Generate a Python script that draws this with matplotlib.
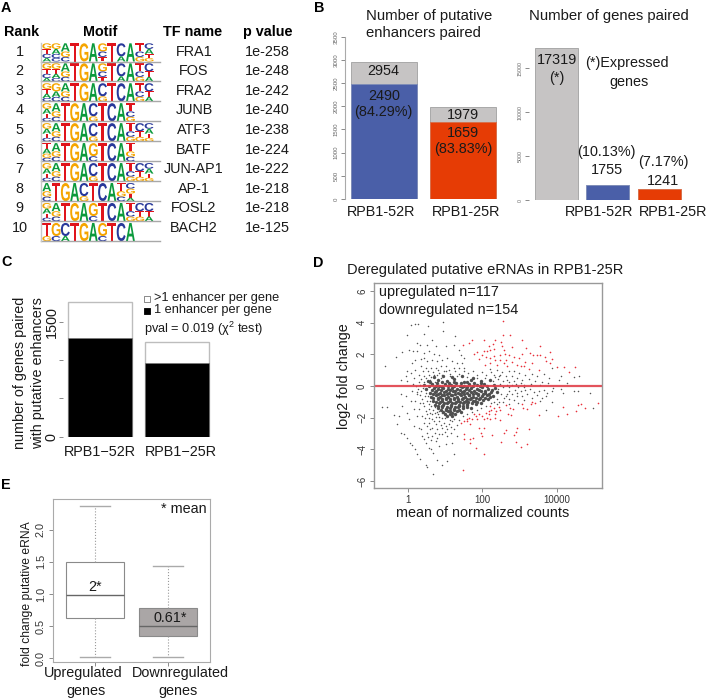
import matplotlib
matplotlib.use('Agg')
import matplotlib.pyplot as plt
from matplotlib.font_manager import FontProperties
from matplotlib.patches import PathPatch
from matplotlib.textpath import TextPath
from matplotlib.transforms import Affine2D

plt.rcParams['font.family'] = ['Liberation Sans', 'DejaVu Sans']
plt.rcParams['mathtext.fontset'] = 'custom'
plt.rcParams['mathtext.rm'] = 'Liberation Sans'

W, H = 708, 699

# panel A
ranks = list(range(1, 11))
tf_names = ['FRA1', 'FOS', 'FRA2', 'JUNB', 'ATF3', 'BATF', 'JUN-AP1', 'AP-1', 'FOSL2', 'BACH2']
p_values = ['1e-258', '1e-248', '1e-242', '1e-240', '1e-238', '1e-224', '1e-222', '1e-218', '1e-218', '1e-125']
motifs = [
    ['GTCA', 'GACC', 'AGC', 'T', 'G', 'A', 'GCT', 'T', 'CA', 'A', 'TCG', 'CATG'],
    ['GTCA', 'GTAC', 'AGC', 'T', 'G', 'A', 'GCT', 'T', 'CA', 'A', 'TCG', 'CTA'],
    ['GTAC', 'GAC', 'AGC', 'T', 'G', 'A', 'CG', 'T', 'C', 'A', 'TCG', 'CTA'],
    ['GATC', 'AGC', 'T', 'G', 'A', 'CG', 'T', 'C', 'A', 'TCG'],
    ['GATC', 'AGC', 'T', 'G', 'A', 'CG', 'T', 'C', 'A', 'TCG', 'CTG', 'CATG'],
    ['TAGC', 'AGC', 'T', 'G', 'A', 'GC', 'T', 'C', 'A', 'TGC'],
    ['GATC', 'AGC', 'T', 'G', 'A', 'CG', 'T', 'C', 'A', 'TCG', 'CTG', 'CATG'],
    ['AGC', 'T', 'G', 'A', 'CG', 'T', 'C', 'A', 'TGC', 'CGTA'],
    ['GATC', 'AGC', 'T', 'G', 'A', 'GC', 'T', 'C', 'A', 'TCG', 'CTG', 'CTA'],
    ['TG', 'GC', 'CA', 'T', 'G', 'A', 'GC', 'T', 'C', 'A'],
]

# panel B
enh_labels = ['RPB1-52R', 'RPB1-25R']
enh_total = [2954, 1979]
enh_active = [2490, 1659]
gene_values = [17319, 1755, 1241]
gene_labels = ['RPB1-52R', 'RPB1-25R']

# panel C
c_labels = ['RPB1\u221252R', 'RPB1\u221225R']
c_total = [1755, 1241]
c_single = [1287, 960]

# panel D: (log10 mean count, log2 fold change)
gray_sparse = [
    (-.61, 1.28), (-.31, 1.83), (-.14, 2.14), (-.01, 3.24), (.10, 3.87), (.19, 3.93), (.29, 3.91), (.55, 3.81),
    (.95, 4.04), (.44, 3.3), (.94, 3.45), (.66, 2.92), (1.28, 3.13), (.24, 2.71), (.32, 2.61), (.53, 2.61),
    (.75, 2.5), (1.02, 2.5), (.04, 2.29), (.14, 2.18), (.26, 2.18), (.44, 2.08), (.57, 2.18), (.70, 2.04),
    (.84, 1.97), (1.24, 2.61), (1.37, 2.29), (1.42, 1.97), (1.51, 1.76), (-.01, .92), (.11, 1.45), (.21, 1.62),
    (.35, 1.7), (.44, 1.76), (.53, 1.55), (.66, 1.62), (.79, 1.55), (.93, 1.66), (1.06, 1.76), (1.19, 1.55),
    (1.33, 1.45), (1.46, 1.45), (-.05, .61), (.08, .82), (.21, 1.03), (.35, 1.24), (.48, 1.13), (.62, 1.13),
    (.75, 1.13), (.88, 1.24), (1.02, 1.24), (-.19, .39), (-.01, .29), (.17, .5), (.3, .71), (.44, .61),
    (.57, .71), (.7, .71), (.84, .82), (.97, .92), (1.11, 1.03), (1.24, 1.13), (1.37, 1.13), (1.51, 1.13),
    (2.7, .92), (2.84, .92), (2.97, .82), (3.15, .71), (3.33, .77), (3.46, .65), (3.64, .77), (3.77, .5),
    (4.04, .39), (4.09, .61), (4.26, .18), (4.44, .56), (4.58, .65), (3.86, 1.13), (2.39, .98), (2.21, 1.07),
    (2.53, .86), (2.62, .65), (2.79, .61), (2.93, .5), (3.06, .39), (3.24, .44), (3.42, .29), (3.6, .23),
    (3.76, .18), (2.3, .71), (2.44, .61), (2.66, .39), (2.84, .29), (3.02, .18), (3.3, .12), (3.55, .08),
    (-.68, -1.31), (-.54, -1.33), (-.37, -1.85), (-.23, -1.89), (-.29, -2.42), (-.19, -2.95), (-.1, -3.01),
    (-.01, -3.31), (.06, -3.58), (.13, -3.75), (.21, -4), (.26, -4.32), (.32, -4.59), (.48, -5.01), (.53, -5.09),
    (.68, -5.54), (.93, -5.01), (1.04, -4.74), (.79, -4.67), (1.24, -4.32), (-.14, -1.26), (-.01, -1.68),
    (.04, -2.11), (.17, -2.53), (.3, -2.63), (.39, -3.16), (.48, -3.58), (.57, -3.89), (.69, -4.21), (.62, -4),
    (.44, -3.37), (.35, -2.74), (.53, -2.95), (.66, -3.16), (.79, -3.26), (.93, -3.05), (1.06, -3.16),
    (1.19, -3.62), (1.33, -3.16), (1.02, -3.68), (.84, -3.79), (-.19, -.53), (-.05, -.63), (.08, -.95),
    (.21, -.95), (.13, -.32), (.26, -.53), (.39, -.84), (.17, -1.47), (.3, -1.47), (.44, -1.26), (.57, -1.16),
    (.26, -1.89), (.39, -1.89), (.53, -1.79), (.66, -1.79), (.44, -2.32), (.57, -2.32), (.7, -2.21), (.84, -2.21),
    (.97, -2.32), (1.11, -2.42), (.66, -2.63), (.79, -2.74), (.93, -2.63), (1.06, -2.74), (1.24, -2.74),
    (3.28, -.17), (3.37, -.38), (3.51, -.32), (3.64, -.25), (3.73, -.42), (3.86, -.32), (3.69, -.63), (3.86, -1.01),
    (3.6, -.74), (4.15, -.42), (4.46, -.32), (4.56, -.32), (4.89, -.42), (4.97, -1.41), (3.69, -1.54), (3.15, -.25),
    (3.02, -.32), (2.88, -.25), (3.06, -.63), (2.93, -.63), (2.79, -.53), (2.84, -.88), (2.7, -.84), (2.62, -.63),
    (3.33, -.74), (3.2, -.5), (3.45, -.55), (3.1, -.9), (2.95, -1.05), (2.72, -1.12), (3.55, -.95), (3.9, -.12),
    (4.1, -.18), (.15, .1), (.3, .25), (.4, -.1), (.28, -.2), (.5, -.45), (.36, .42), (.6, .38), (.72, .25),
    (.58, -1.45), (.72, -1.35), (.85, -1.95), (1.0, -2.05), (.75, -1.95), (.92, -1.72), (1.2, -2.2), (1.32, -2.45),
    # denser band round the core
    (.42, .92), (.55, .95), (.68, .9), (.8, 1.02), (.92, .72), (1.03, .95), (1.14, .78), (1.26, .92), (1.38, .74),
    (1.5, .95), (1.62, .8), (1.74, .94), (1.86, .72), (1.98, .88), (2.1, .7), (2.22, .86), (2.34, .55), (2.47, .72),
    (.5, .5), (.62, .56), (.78, .7), (.9, .5), (1.12, .62), (1.33, .6), (1.58, .55), (1.86, .48), (2.08, .52),
    (2.28, .3), (2.42, .42), (2.55, .32), (2.72, .22), (2.9, .12), (3.1, .06), (2.48, .15), (2.65, .08), (2.8, .05),
    (2.72, -.08), (2.95, -.06), (3.12, -.08), (2.55, -.08), (2.42, -.22), (2.7, -.3), (2.5, -.52), (2.66, -.52),
    (2.92, -.42), (2.58, -.75), (2.38, -.82), (2.44, -.98), (2.55, -1.02), (2.3, -1.02), (2.22, -1.05), (2.38, -1.15),
    (.22, .02), (.34, .08), (.45, .28), (.24, -.38), (.36, -.32), (.46, -.22), (.34, -.6), (.46, -.62), (.55, -.62),
    (.32, -1.1), (.42, -1.05), (.52, -.92), (.6, -.95), (.62, -1.25), (.68, -1.5), (.78, -1.62), (.85, -1.55),
    (.48, -1.55), (.6, -1.7), (.72, -1.72), (.82, -1.78), (.92, -2.0), (1.02, -1.85), (1.12, -2.12), (1.25, -2.08),
    (1.38, -2.12), (1.48, -1.92), (1.6, -1.78), (1.72, -1.62), (1.85, -1.52), (1.97, -1.38), (2.1, -1.25),
    (.46, -2.05), (.58, -2.02), (.66, -2.1), (.52, -2.55), (.6, -2.72), (.75, -2.42), (.88, -2.48), (1.02, -2.5),
    (1.16, -2.62), (.72, -2.95), (.85, -3.02), (1.0, -2.92), (1.15, -2.98), (.55, -3.25), (.62, -3.42), (.76, -3.5),
]
gray_core = [
    (.7, .58), (.95, .66), (1.2, .55), (1.45, .62), (1.75, .5), (.55, .33), (.8, .4), (1.05, .3), (1.25, .42),
    (1.5, .28), (1.7, .38), (1.95, .31), (2.2, .4), (.45, .08), (.65, .14), (.85, .02), (1.0, .12), (1.15, .05),
    (1.3, .16), (1.5, .02), (1.65, .12), (1.85, .04), (2.05, .14), (2.3, .06), (.5, -.18), (.7, -.1),
    (.82, -.2), (.95, -.12), (1.07, -.22), (1.2, -.1), (1.32, -.18), (1.45, -.08), (1.57, -.2), (1.7, -.1),
    (1.85, -.16), (2.0, -.08), (2.15, -.18), (2.35, -.1), (.6, -.42), (.74, -.35),
    (.86, -.45), (.98, -.36), (1.1, -.46), (1.22, -.34), (1.34, -.44), (1.46, -.36), (1.58, -.46), (1.7, -.35),
    (1.82, -.43), (1.95, -.33), (2.08, -.42), (2.22, -.36), (2.4, -.41), (.62, -.68), (.75, -.6),
    (.87, -.7), (.98, -.6), (1.09, -.7), (1.2, -.58), (1.31, -.69), (1.42, -.6), (1.53, -.7), (1.64, -.6),
    (1.76, -.68), (1.88, -.58), (2.0, -.66), (2.13, -.58), (2.28, -.65), (.68, -.92), (.8, -.85),
    (.91, -.95), (1.02, -.85), (1.12, -.95), (1.23, -.84), (1.34, -.94), (1.45, -.85), (1.56, -.93), (1.67, -.83),
    (1.79, -.92), (1.9, -.82), (2.02, -.9), (2.15, -.82), (.72, -1.17), (.84, -1.1), (.95, -1.2),
    (1.05, -1.1), (1.16, -1.2), (1.27, -1.08), (1.38, -1.18), (1.49, -1.08), (1.6, -1.16), (1.72, -1.06),
    (1.84, -1.13), (1.96, -1.05), (.8, -1.42), (.92, -1.35), (1.03, -1.45), (1.14, -1.36),
    (1.25, -1.46), (1.36, -1.35), (1.47, -1.42), (1.58, -1.32), (1.7, -1.38), (.95, -1.65),
    (1.08, -1.6), (1.2, -1.7), (1.32, -1.6), (1.44, -1.64), (1.06, -1.9), (1.2, -1.88),
    (.6, .22), (.78, .18), (.93, .24), (1.1, .2), (1.25, .25), (1.42, .18), (1.58, .22), (1.78, .17), (1.95, .2),
    (.58, -.03), (.76, 0.0), (.92, -.04), (1.08, .01), (1.24, -.03), (1.4, .02), (1.58, -.04), (1.76, -.01), (1.94, -.03), (2.12, .01),
    (.64, -.27), (.76, -.3), (.9, -.26), (1.02, -.31), (1.14, -.27), (1.26, -.3), (1.39, -.25), (1.51, -.3), (1.64, -.26),
    (1.77, -.29), (1.9, -.25), (2.07, -.3), (2.25, -.26),
    (.68, -.52), (.8, -.5), (.92, -.55), (1.04, -.5), (1.16, -.54), (1.28, -.5), (1.4, -.53), (1.52, -.49), (1.64, -.54),
    (1.76, -.5), (1.89, -.52), (2.02, -.48), (2.17, -.52),
    (.69, -.78), (.81, -.76), (.93, -.8), (1.03, -.75), (1.14, -.8), (1.25, -.76), (1.36, -.8), (1.47, -.75), (1.58, -.8),
    (1.7, -.75), (1.82, -.79), (1.94, -.73), (2.07, -.77), (2.2, -.72),
    (.75, -1.03), (.86, -1.0), (.97, -1.05), (1.07, -1.0), (1.18, -1.05), (1.29, -.98), (1.4, -1.04), (1.51, -.98),
    (1.62, -1.03), (1.74, -.97), (1.86, -1.02),
    (.82, -1.28), (.93, -1.26), (1.04, -1.3), (1.15, -1.25), (1.26, -1.3), (1.37, -1.25), (1.48, -1.28), (1.6, -1.23),
    (.9, -1.53), (1.02, -1.52), (1.13, -1.55), (1.25, -1.53), (1.37, -1.5), (1.0, -1.78), (1.13, -1.76), (1.27, -1.78),
]
red_points = [
    (2.54, 4.12), (2.56, 3.24), (2.75, 3.19), (3.06, 2.92), (2.33, 2.88), (2.29, 2.67), (2.51, 2.75), (2.53, 2.5),
    (2.78, 2.46), (3.55, 2.54), (2.2, 2.29), (2.32, 2.33), (2.57, 2.29), (3.06, 2.04), (3.17, 2.37), (3.28, 2.08),
    (3.36, 1.97), (3.46, 1.93), (3.55, 1.97), (3.67, 1.83), (3.8, 2.12), (3.85, 1.7), (3.69, 1.55), (3.8, 1.45),
    (3.33, 1.45), (3.15, 1.49), (2.97, 1.76), (2.84, 1.83), (2.7, 1.97), (2.6, 2.02), (2.46, 1.97), (2.3, 1.91),
    (2.21, 1.76), (2.35, 1.66), (2.48, 1.62), (2.62, 1.62), (2.79, 1.49), (2.93, 1.34), (3.02, 1.24), (2.57, 1.45),
    (3.26, 1.07), (3.51, .98), (4.0, 1.17), (4.18, 1.17), (4.47, 1.17), (4.33, .86), (3.11, 1.24), (2.21, 1.45),
    (2.66, 1.24), (2.39, 1.34), (1.49, 2.61), (1.64, 2.71), (1.73, 2.92), (2.04, 2.88), (1.77, 2.04), (1.86, 2.14),
    (2.04, 2.18), (2.0, 1.97), (2.13, 2.18), (1.91, 1.7), (2.09, 1.83), (2.06, 1.34), (2.17, 2.5),
    (1.44, -2.32), (1.51, -2.21), (1.58, -2.11), (1.64, -2), (1.73, -2.11), (1.82, -1.89), (1.91, -1.79), (2, -1.89),
    (2.09, -1.68), (2.13, -2), (1.68, -2.42), (1.86, -2.11), (2.04, -2.11), (1.91, -2.63), (2.04, -2.63), (2, -3.16),
    (1.51, -3.05), (1.52, -3.33), (1.68, -3.33), (1.76, -3.26), (1.68, -3.58), (1.82, -3.94), (2.04, -4.27),
    (1.48, -5.31), (1.95, -2.95), (1.6, -2.21), (1.77, -1.79), (2.17, -1.58),
    (2.2, -1.26), (2.3, -1.37), (2.44, -1.31), (2.24, -1.52), (2.37, -1.58), (2.48, -1.52), (2.19, -1.79),
    (2.33, -1.79), (2.21, -2.11), (2.33, -2), (2.46, -2.17), (2.62, -1.22), (2.75, -1.37), (2.81, -1.43),
    (2.68, -1.79), (2.76, -1.83), (3.06, -1.16), (3.08, -1.37), (3.19, -1.47), (3.3, -1.16), (3.33, -1.01),
    (3.4, -1.09), (3.51, -1.83), (4.15, -1.33), (4.02, -1.89), (4.26, -1.75), (4.51, -1.58), (4.55, -1.22),
    (4.64, -1.12), (4.75, -1.41), (5.09, -1.05), (2.92, -2.63), (3.26, -2.69), (2.63, -2.8), (2.9, -2.91),
    (2.57, -2.95), (2.84, -3.12), (2.26, -3.12), (2.49, -3.52), (2.91, -3.52), (3.19, -3.68), (3.02, -3.85),
]
d_xticks = [1, 100, 10000]
d_yticks = [-6, -4, -2, 0, 2, 4, 6]

# panel E
e_labels = ['Upregulated\ngenes', 'Downregulated\ngenes']
e_stats = [
    dict(whislo=0.03, q1=0.635, med=0.99, q3=1.50, whishi=2.37, fliers=[]),
    dict(whislo=0.03, q1=0.35, med=0.505, q3=0.79, whishi=1.43, fliers=[]),
]
e_yticks = [0.0, 0.5, 1.0, 1.5, 2.0]

GRAY = '#c6c4c4'
BLUE = '#4a5fa8'
RED = '#e63c05'
TICK = '#777777'
TXT = '#1a1a1a'
logo_colors = {'A': '#0b9a3c', 'C': '#28389a', 'G': '#f5a500', 'T': '#e0141c'}
stack_heights = {1: [1.0], 2: [.72, .28], 3: [.45, .3, .25], 4: [.31, .27, .23, .19]}


def axes_px(fig, left, top, right, bottom):
    return fig.add_axes([left / W, 1 - bottom / H, (right - left) / W, (bottom - top) / H])


fig = plt.figure(figsize=(W / 100, H / 100), dpi=100)
over = fig.add_axes([0, 0, 1, 1], zorder=10)
over.set_xlim(0, W)
over.set_ylim(H, 0)
over.axis('off')


def label(x, y, s, size=10.4, ha='center', **kw):
    over.text(x, y, s, fontsize=size, ha=ha, va='center', color=kw.pop('color', TXT), **kw)


# ---- A: motif table
for x, s in [(1, 'A'), (314, 'B')]:
    label(x, 8, s, ha='left', fontweight='bold', color='black')
label(1, 262, 'C', ha='left', fontweight='bold', color='black')
label(313, 263, 'D', ha='left', fontweight='bold', color='black')
label(1, 485, 'E', ha='left', fontweight='bold', color='black')

for x, s in [(22, 'Rank'), (100, 'Motif'), (193, 'TF name'), (268, 'p value')]:
    label(x, 32, s, fontweight='bold', color='black')

bold = FontProperties(family='Liberation Sans', weight='bold')
for i, (rank, name, pval, motif) in enumerate(zip(ranks, tf_names, p_values, motifs)):
    y = 51.7 + i * 19.56
    label(19.5, y, str(rank))
    label(194, y, name)
    label(267, y, pval)
    base = 61.5 + i * 19.96
    over.plot([41, 160], [base, base], color='#a8a8a8', lw=1)
    for c, col in enumerate(motif):
        top = base - 18.2
        for ch, frac in zip(col, stack_heights[len(col)]):
            h = 18.2 * frac
            path = TextPath((0, 0), ch, size=1, prop=bold)
            box = path.get_extents()
            tr = (Affine2D().translate(-box.x0, -box.y0)
                  .scale(8.9 / box.width, -h / box.height)
                  .translate(42.3 + c * 9.3, top + h))
            over.add_patch(PathPatch(path.transformed(tr), fc=logo_colors[ch], lw=0))
            top += h
over.plot([41, 41], [43, 241], color='#c8c8c8', lw=1)

# ---- B: enhancers
ax = axes_px(fig, 345, 36.7, 505, 199)
ax.bar(range(2), enh_total, width=.836, color=GRAY, edgecolor='#a9a9a9', lw=.7)
ax.bar(range(2), enh_active[:1] + [0], width=.836, color=BLUE, edgecolor='#7f8db8', lw=.7)
ax.bar(range(2), [0] + enh_active[1:], width=.836, color=RED, edgecolor='#d8704c', lw=.7)
ax.set_xlim(-.49, 1.53)
ax.set_ylim(0, 3500)
ax.set_xticks([])
ax.set_yticks(range(0, 3501, 500))
ax.tick_params(axis='y', labelsize=4.4, length=3, width=.6, color=TICK, labelcolor='#666666', pad=1.5)
plt.setp(ax.get_yticklabels(), rotation=90, va='center')
for s in ['top', 'right', 'bottom']:
    ax.spines[s].set_visible(False)
ax.spines['left'].set_color('#aaaaaa')
ax.patch.set_alpha(0)

label(366, 15.7, 'Number of putative', ha='left', size=10.7)
label(366, 33, 'enhancers paired', ha='left', size=10.7)
label(381, 212, enh_labels[0])
label(465.7, 212, enh_labels[1])
label(383.7, 71, str(enh_total[0]))
label(383.7, 96, str(enh_active[0]))
label(383.7, 112, '(84.29%)')
label(463, 115, str(enh_total[1]))
label(463, 133, str(enh_active[1]))
label(463, 149, '(83.83%)')

# ---- B: genes
ax = axes_px(fig, 529, 42, 690, 200)
ax.bar(range(3), gene_values, width=.83, color=[GRAY, BLUE, RED], edgecolor=['#a9a9a9', '#7f8db8', '#d8704c'], lw=.7)
ax.set_xlim(-.531, 2.595)
ax.set_ylim(0, 18000)
ax.set_xticks([])
ax.set_yticks(range(0, 15001, 5000))
ax.tick_params(axis='y', labelsize=3.8, length=3, width=.6, color=TICK, labelcolor='#666666', pad=1.5)
plt.setp(ax.get_yticklabels(), rotation=90, va='center')
for s in ['top', 'right', 'bottom', 'left']:
    ax.spines[s].set_visible(False)
ax.patch.set_alpha(0)

label(609, 15.7, 'Number of genes paired', size=10.7)
label(556.7, 60, str(gene_values[0]))
label(556.7, 78, '(*)')
label(627, 63, '(*)Expressed')
label(629, 82, 'genes')
label(606.7, 152, '(10.13%)')
label(606.7, 170, str(gene_values[1]))
label(663, 162, '(7.17%)')
label(663, 181, str(gene_values[2]))
label(599, 212, gene_labels[0])
label(673, 212, gene_labels[1])

# ---- C
ax = axes_px(fig, 63, 298.7, 215, 436.7)
ax.bar(range(2), c_total, width=.83, color='white', edgecolor='#bdbdbd', lw=1)
ax.bar(range(2), c_single, width=.83, color='black', edgecolor='#777777', lw=.4)
ax.set_xlim((63 - 100) / 77, (215 - 100) / 77)
ax.set_ylim(0, 1800)
ax.set_xticks([])
ax.set_yticks([0, 500, 1000, 1500])
ax.set_yticklabels(['0', '', '', '1500'], rotation=90, va='center', fontsize=10.4, color=TXT)
ax.tick_params(axis='y', length=3, width=.6, color=TICK, pad=0)
for s in ax.spines.values():
    s.set_visible(False)
ax.patch.set_alpha(0)

label(20, 373, 'number of genes paired', rotation=90)
label(38, 373, 'with putative enhancers', rotation=90)
label(100, 451.7, c_labels[0])
label(181, 451.7, c_labels[1])
over.scatter([147], [299], s=14, marker='s', fc='white', ec='#777777', lw=.6)
over.scatter([147], [311], s=14, marker='s', fc='black', ec='black', lw=.6)
label(154, 298, '>1 enhancer per gene', ha='left', size=9.2)
label(154, 310, '1 enhancer per gene', ha='left', size=9.2)
label(144, 329, 'pval = 0.019 (\u03c7$^{\\mathrm{2}}$ test)', ha='left', size=9.2)

# ---- D
ax = axes_px(fig, 374, 283, 602, 488)
ax.set_xscale('log')
ax.scatter([10 ** p[0] for p in gray_core], [p[1] for p in gray_core], s=6, c='#4f4f4f', lw=0)
ax.scatter([10 ** p[0] for p in gray_sparse], [p[1] for p in gray_sparse], s=1.2, c='#555555', lw=0)
ax.scatter([10 ** p[0] for p in red_points], [p[1] for p in red_points], s=1.4, c='#e8303a', lw=0)
ax.axhline(0, color='#e0404a', lw=1.6, alpha=.9)
ax.set_xlim(10 ** -.9, 10 ** 5.2)
ax.set_ylim(-6.44, 6.5)
ax.set_xticks(d_xticks)
ax.set_xticklabels([str(v) for v in d_xticks], fontsize=7, color='#333333')
ax.minorticks_off()
ax.set_yticks(d_yticks)
ax.set_yticklabels([str(v).replace('-', '\u2212') for v in d_yticks], rotation=90, va='center', fontsize=7, color='#333333')
ax.tick_params(length=3, width=.6, color=TICK, pad=2)
for s in ax.spines.values():
    s.set_color('#999999')
    s.set_linewidth(1)

label(485, 270, 'Deregulated putative eRNAs in RPB1-25R', size=10.5)
label(379, 292, 'upregulated n=117', ha='left')
label(379, 310, 'downregulated n=154', ha='left')
label(344, 376, 'log2 fold change', rotation=90)
label(483, 513, 'mean of normalized counts')

# ---- E
ax = axes_px(fig, 52.7, 499.3, 210, 662.3)
parts = ax.bxp(e_stats, positions=[1, 2], widths=.8, patch_artist=True, showfliers=False,
               boxprops=dict(edgecolor='#8a8a8a', lw=.8),
               medianprops=dict(color='#666666', lw=1),
               whiskerprops=dict(color='#999999', lw=.8, ls=':'),
               capprops=dict(color='#aaaaaa', lw=1))
parts['boxes'][0].set_facecolor('white')
parts['boxes'][1].set_facecolor('#aaa6a6')
ax.set_xlim(.42, 2.575)
ax.set_ylim(-.06, 2.47)
ax.set_xticks([1, 2])
ax.set_xticklabels(['', ''])
ax.set_yticks(e_yticks)
ax.set_yticklabels([f'{v:.1f}' for v in e_yticks], rotation=90, va='center', fontsize=7.8, color='#333333')
ax.tick_params(length=3, width=.6, color=TICK, pad=2)
for s in ax.spines.values():
    s.set_color('#aaaaaa')

label(27, 594, 'fold change putative eRNA', rotation=90, size=8.7)
label(184, 509, '* mean')
label(95, 586.7, '2*')
label(170, 618, '0.61*')
lines0 = e_labels[0].split('\n')
lines1 = e_labels[1].split('\n')
label(83.5, 673, lines0[0])
label(86, 691, lines0[1])
label(180, 673, lines1[0])
label(178, 691, lines1[1])

fig.savefig('out.png', dpi=100)
